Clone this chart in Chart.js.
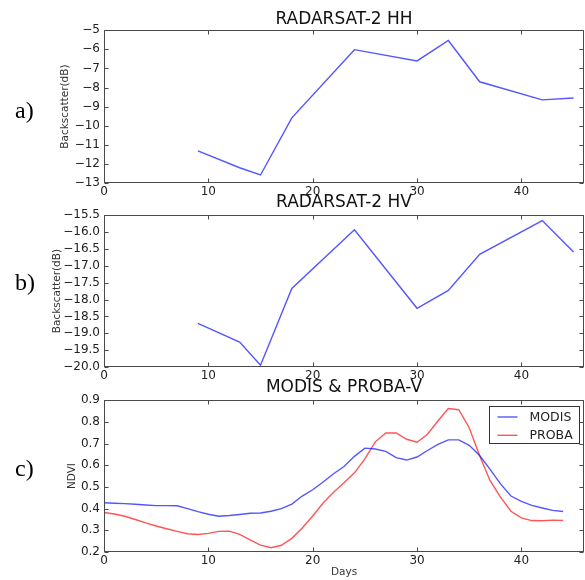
<!DOCTYPE html>
<html><head><meta charset="utf-8">
<script src="https://cdn.jsdelivr.net/npm/chart.js@4/dist/chart.umd.min.js"></script>
<style>
html,body{margin:0;padding:0;background:#fff;}
#wrap{position:relative;width:585px;height:580px;overflow:hidden;background:#fff;}
canvas{position:absolute;left:0;}
.lab{position:absolute;left:15px;font-family:"Liberation Serif","Times New Roman",serif;font-size:24px;line-height:24px;color:#000;}
</style></head><body>
<div id="wrap">
<canvas id="c1" width="585" height="200" style="top:0px"></canvas>
<canvas id="c2" width="585" height="199" style="top:185px"></canvas>
<canvas id="c3" width="585" height="210" style="top:370px"></canvas>
<div class="lab" style="top:98px">a)</div>
<div class="lab" style="top:270px">b)</div>
<div class="lab" style="top:456px">c)</div>
</div>
<script>
// ---- data ----
const hhDays = [9, 13, 15, 18, 24, 30, 33, 36, 42, 45];
const hhValues = [-11.32, -12.2, -12.58, -9.59, -6.02, -6.61, -5.54, -7.70, -8.65, -8.55];
const hvDays = [9, 13, 15, 18, 24, 30, 33, 36, 42, 45];
const hvValues = [-18.71, -19.26, -19.95, -17.67, -15.93, -18.26, -17.73, -16.66, -15.66, -16.59];
const ndviDays = [0,1,2,3,4,5,6,7,8,9,10,11,12,13,14,15,16,17,18,19,20,21,22,23,24,25,26,27,28,29,30,31,32,33,34,35,36,37,38,39,40,41,42,43,44];
const modisValues = [0.427,0.425,0.423,0.420,0.417,0.414,0.414,0.413,0.400,0.386,0.374,0.365,0.368,0.373,0.379,0.380,0.388,0.400,0.421,0.458,0.487,0.523,0.561,0.594,0.641,0.679,0.675,0.664,0.635,0.624,0.638,0.668,0.696,0.717,0.717,0.692,0.645,0.581,0.514,0.458,0.433,0.415,0.403,0.392,0.387];
const probaValues = [0.382,0.375,0.365,0.350,0.334,0.320,0.307,0.295,0.284,0.281,0.286,0.295,0.296,0.281,0.256,0.232,0.220,0.231,0.263,0.311,0.366,0.426,0.476,0.519,0.565,0.629,0.708,0.749,0.749,0.720,0.706,0.743,0.804,0.862,0.856,0.773,0.644,0.529,0.453,0.388,0.357,0.345,0.344,0.347,0.346];
const xTicks = [0, 10, 20, 30, 40];
const hhTicks = [-13, -12, -11, -10, -9, -8, -7, -6, -5];
const hvTicks = [-20.0, -19.5, -19.0, -18.5, -18.0, -17.5, -17.0, -16.5, -16.0, -15.5];
const ndviTicks = [0.2, 0.3, 0.4, 0.5, 0.6, 0.7, 0.8, 0.9];
const titles = ['RADARSAT-2 HH', 'RADARSAT-2 HV', 'MODIS & PROBA-V'];
const seriesNames = ['MODIS', 'PROBA'];

// ---- styling ----
const FONT = '"DejaVu Sans", Verdana, sans-serif';
const BLUE = 'rgba(20,20,255,0.72)';
const RED = 'rgba(255,20,20,0.72)';
const AXIS = '#4a4a4a';
const fmt = (v, d) => (v < 0 ? '\u2212' : '') + Math.abs(v).toFixed(d);
const pts = (xs, ys) => xs.map((x, i) => ({x: x, y: ys[i]}));

const framePlugin = {
  id: 'frame',
  afterDatasetsDraw(chart) {
    const {ctx, chartArea: a, scales: {x, y}} = chart;
    ctx.save();
    ctx.strokeStyle = AXIS;
    ctx.lineWidth = 1;
    const L = Math.round(a.left) + 0.5, R = Math.round(a.right) - 0.5;
    const T = Math.round(a.top) + 0.5, B = Math.round(a.bottom) - 0.5;
    ctx.beginPath();
    x.ticks.forEach(t => {
      const px = Math.round(x.getPixelForValue(t.value)) + 0.5;
      ctx.moveTo(px, B); ctx.lineTo(px, B - 4);
      ctx.moveTo(px, T); ctx.lineTo(px, T + 4);
    });
    y.ticks.forEach(t => {
      const py = Math.round(y.getPixelForValue(t.value)) + 0.5;
      ctx.moveTo(L, py); ctx.lineTo(L + 4, py);
      ctx.moveTo(R, py); ctx.lineTo(R - 4, py);
    });
    ctx.stroke();
    ctx.strokeRect(L, T, R - L, B - T);
    ctx.restore();
  }
};

const boxLegendPlugin = {
  id: 'boxLegend',
  afterDraw(chart) {
    const {ctx, chartArea: a} = chart;
    const right = Math.round(a.right) - 4.5, w = 90, h = 37;
    const left = right - w, top = Math.round(a.top) + 6.5;
    ctx.save();
    ctx.fillStyle = '#fff';
    ctx.fillRect(left, top, w, h);
    ctx.strokeStyle = '#333';
    ctx.lineWidth = 1;
    ctx.strokeRect(left, top, w, h);
    chart.data.datasets.forEach((ds, i) => {
      const yy = top + 10.5 + i * 18.3;
      ctx.strokeStyle = ds.borderColor;
      ctx.lineWidth = ds.borderWidth;
      ctx.beginPath(); ctx.moveTo(left + 8, yy); ctx.lineTo(left + 28, yy); ctx.stroke();
      ctx.fillStyle = '#222';
      ctx.font = '12.5px ' + FONT;
      ctx.textBaseline = 'middle';
      ctx.fillText(ds.label, left + 40, yy + 0.5);
    });
    ctx.restore();
  }
};

function makeOptions(o) {
  return {
    responsive: false, animation: false, devicePixelRatio: 1,
    layout: {padding: {left: 0, right: 1, top: 0, bottom: 0}},
    plugins: {
      legend: {display: false}, tooltip: {enabled: false},
      title: {display: true, fullSize: false, text: o.title, color: '#111',
        font: {family: FONT, size: 17, weight: 'normal', lineHeight: 1.2},
        padding: {top: o.tpt, bottom: o.tpb}}
    },
    elements: {point: {radius: 0}, line: {tension: 0}},
    scales: {
      x: {
        type: 'linear', min: 0, max: 46,
        afterBuildTicks: s => { s.ticks = xTicks.map(v => ({value: v})); },
        afterFit: s => { s.height = o.xh; },
        grid: {display: false, drawTicks: false}, border: {display: false},
        ticks: {padding: 2, color: '#222', font: {family: FONT, size: 12}, maxRotation: 0, autoSkip: false,
          callback: v => fmt(v, 0)},
        title: o.xTitle ? {display: true, text: o.xTitle, color: '#333',
          font: {family: FONT, size: 10.5, lineHeight: 1.2}, padding: {top: 0, bottom: 1.4}} : {display: false}
      },
      y: {
        type: 'linear', min: o.ymin, max: o.ymax,
        afterBuildTicks: s => { s.ticks = o.yTicks.map(v => ({value: v})); },
        afterFit: s => { s.width = 104; },
        grid: {display: false, drawTicks: false}, border: {display: false},
        ticks: {padding: 4, color: '#222', font: {family: FONT, size: 12}, autoSkip: false,
          callback: v => fmt(v, o.dec)},
        title: {display: true, text: o.yTitle, color: '#333',
          font: {family: FONT, size: 10.5, lineHeight: 1.2}, padding: {top: o.ypt, bottom: 0}}
      }
    }
  };
}

new Chart(document.getElementById('c1'), {
  type: 'line',
  data: {datasets: [{label: 'HH', data: pts(hhDays, hhValues), borderColor: BLUE, borderWidth: 1.4, fill: false}]},
  options: makeOptions({title: titles[0], tpt: 9, tpb: 0.8, xh: 17, ymin: -13, ymax: -5, yTicks: hhTicks, dec: 0,
    yTitle: 'Backscatter(dB)', ypt: 58.5}),
  plugins: [framePlugin]
});

new Chart(document.getElementById('c2'), {
  type: 'line',
  data: {datasets: [{label: 'HV', data: pts(hvDays, hvValues), borderColor: BLUE, borderWidth: 1.4, fill: false}]},
  options: makeOptions({title: titles[1], tpt: 7.5, tpb: 2.3, xh: 17, ymin: -20, ymax: -15.5, yTicks: hvTicks, dec: 1,
    yTitle: 'Backscatter(dB)', ypt: 51}),
  plugins: [framePlugin]
});

new Chart(document.getElementById('c3'), {
  type: 'line',
  data: {datasets: [
    {label: seriesNames[0], data: pts(ndviDays, modisValues), borderColor: BLUE, borderWidth: 1.4, fill: false},
    {label: seriesNames[1], data: pts(ndviDays, probaValues), borderColor: RED, borderWidth: 1.4, fill: false}
  ]},
  options: makeOptions({title: titles[2], tpt: 7.4, tpb: 2.4, xh: 28, xTitle: 'Days', ymin: 0.2, ymax: 0.9, yTicks: ndviTicks, dec: 1,
    yTitle: 'NDVI', ypt: 65.5}),
  plugins: [framePlugin, boxLegendPlugin]
});
</script>
</body></html>
